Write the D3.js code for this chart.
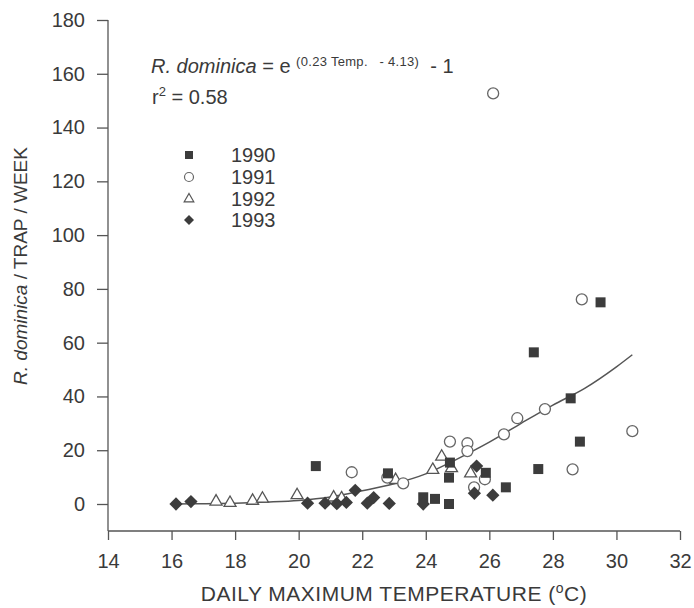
<!DOCTYPE html>
<html>
<head>
<meta charset="utf-8">
<script src="https://cdn.jsdelivr.net/npm/d3@7"></script>
<style>
  html, body { margin: 0; padding: 0; background: #fff; }
  svg { display: block; font-family: "Liberation Sans", Arial, Helvetica, sans-serif; }
</style>
</head>
<body>
<div id="chart"></div>
<script>
// ---------- data ----------
const xTicks = [14, 16, 18, 20, 22, 24, 26, 28, 30, 32];
const yTicks = [0, 20, 40, 60, 80, 100, 120, 140, 160, 180];
const years = ["1990", "1991", "1992", "1993"];

const temp1990 = [20.54, 22.81, 23.92, 24.29, 24.73, 24.73, 24.76, 25.89, 26.52, 27.54, 28.85, 28.56, 27.40, 29.50];
const val1990  = [14.1, 11.4, 2.5, 1.9, 0.0, 9.8, 15.4, 11.6, 6.2, 13.0, 23.2, 39.3, 56.4, 75.0];

const temp1991 = [21.67, 22.79, 23.29, 24.76, 25.31, 25.31, 25.86, 25.52, 26.46, 26.88, 27.75, 28.62, 30.50, 28.91, 26.12];
const val1991  = [11.8, 9.8, 7.7, 23.2, 22.6, 19.7, 9.2, 6.2, 25.9, 31.9, 35.3, 12.9, 27.1, 76.1, 152.7];

const temp1992 = [17.40, 17.84, 18.55, 18.86, 19.95, 21.10, 21.35, 23.05, 24.22, 24.50, 24.81, 25.41];
const val1992  = [0.9, 0.4, 1.2, 2.0, 3.3, 2.4, 2.1, 8.9, 12.7, 17.6, 13.3, 11.4];

const temp1993 = [16.14, 16.61, 20.28, 20.83, 21.20, 21.50, 21.78, 22.16, 22.36, 22.85, 23.92, 25.60, 25.53, 26.11];
const val1993  = [0.0, 0.9, 0.3, 0.3, 0.1, 0.6, 5.1, 0.3, 2.4, 0.2, 0.0, 14.1, 4.0, 3.3];

// fitted curve, as drawn in the reference
const curveTemp = [16.1, 17, 18, 19, 20, 21, 22, 23, 24, 25, 26, 27, 28, 29, 30, 30.5];
const curveVal  = [0.0, 0.1, 0.3, 0.7, 1.3, 2.6, 4.9, 7.5, 11.2, 16.8, 23.0, 30.0, 36.8, 43.0, 51.0, 55.5];

// ---------- drawing ----------
const W = 694, H = 608;
const svg = d3.select("#chart").append("svg").attr("width", W).attr("height", H);

const x = d3.scaleLinear().domain([14, 32]).range([108, 680]);
const y = d3.scaleLinear().domain([0, 180]).range([504, 20]);
const xAxisY = 531;

const lineCol = "#555";
const textCol = "#3a3a3a";
const markCol = "#3c3c3c";

// axis lines
svg.append("line").attr("x1", x(14)).attr("x2", x(14)).attr("y1", y(180)).attr("y2", xAxisY)
  .attr("stroke", lineCol).attr("stroke-width", 1.3);
svg.append("line").attr("x1", x(14)).attr("x2", x(32)).attr("y1", xAxisY).attr("y2", xAxisY)
  .attr("stroke", lineCol).attr("stroke-width", 1.3);

// y axis ticks
const gy = svg.append("g").attr("transform", `translate(${x(14)},0)`)
  .call(d3.axisLeft(y).tickValues(yTicks).tickSize(11).tickPadding(12).tickFormat(d3.format("d")));
gy.select(".domain").remove();
gy.selectAll(".tick line").attr("stroke", lineCol).attr("stroke-width", 1.3);
gy.selectAll(".tick text").attr("fill", textCol).style("font-size", "20px")
  .style("font-family", '"Liberation Sans", Arial, sans-serif');

// x axis ticks
const gx = svg.append("g").attr("transform", `translate(0,${xAxisY})`)
  .call(d3.axisBottom(x).tickValues(xTicks).tickSize(9).tickPadding(14).tickFormat(d3.format("d")));
gx.select(".domain").remove();
gx.selectAll(".tick line").attr("stroke", lineCol).attr("stroke-width", 1.3);
gx.selectAll(".tick text").attr("fill", textCol).style("font-size", "20px")
  .style("font-family", '"Liberation Sans", Arial, sans-serif');

// axis titles
const xt = svg.append("text").attr("x", 394).attr("y", 601).attr("text-anchor", "middle")
  .attr("fill", textCol).style("font-size", "21px").style("letter-spacing", "0.5px");
xt.append("tspan").text("DAILY MAXIMUM TEMPERATURE (");
xt.append("tspan").attr("dy", -8).style("font-size", "14px").text("o");
xt.append("tspan").attr("dy", 8).text("C)");

const yt = svg.append("text").attr("transform", "translate(27,266) rotate(-90)")
  .attr("text-anchor", "middle").attr("fill", textCol).style("font-size", "19px");
yt.append("tspan").style("font-style", "italic").text("R. dominica");
yt.append("tspan").text(" / TRAP / WEEK");

// equation
const eq = svg.append("text").attr("x", 151).attr("y", 73).attr("fill", textCol).style("font-size", "20px");
eq.append("tspan").style("font-style", "italic").text("R. dominica");
eq.append("tspan").text(" = e ");
eq.append("tspan").attr("dy", -7).style("font-size", "13px").style("letter-spacing", "0.3px")
  .text("(0.23 Temp. \u00A0\u00A0- 4.13)");
eq.append("tspan").attr("dy", 7).text(" \u00A0- 1");

const r2 = svg.append("text").attr("x", 152).attr("y", 104).attr("fill", textCol).style("font-size", "20px");
r2.append("tspan").text("r");
r2.append("tspan").attr("dy", -8).style("font-size", "13px").text("2");
r2.append("tspan").attr("dy", 8).text(" = 0.58");

// curve
const curvePts = curveTemp.map((t, i) => [t, curveVal[i]]);
svg.append("path").datum(curvePts)
  .attr("d", d3.line().x(d => x(d[0])).y(d => y(d[1])).curve(d3.curveMonotoneX))
  .attr("fill", "none").attr("stroke", "#555").attr("stroke-width", 1.5);

// markers
const symSquare = d3.symbol().type(d3.symbolSquare).size(100)();
const symDiamond = d3.symbol().type(d3.symbolSquare).size(88)();
const symTriangle = d3.symbol().type(d3.symbolTriangle).size(62)();

function pts(t, v) { return t.map((d, i) => [d, v[i]]); }

// 1992 triangles
svg.append("g").selectAll("path").data(pts(temp1992, val1992)).join("path")
  .attr("d", symTriangle).attr("transform", d => `translate(${x(d[0])},${y(d[1])})`)
  .attr("fill", "#fff").attr("stroke", "#555").attr("stroke-width", 1.3);

// 1991 circles
svg.append("g").selectAll("circle").data(pts(temp1991, val1991)).join("circle")
  .attr("cx", d => x(d[0])).attr("cy", d => y(d[1])).attr("r", 5.5)
  .attr("fill", "#fff").attr("stroke", "#666").attr("stroke-width", 1.3);

// 1990 squares
svg.append("g").selectAll("path").data(pts(temp1990, val1990)).join("path")
  .attr("d", symSquare).attr("transform", d => `translate(${x(d[0])},${y(d[1])})`)
  .attr("fill", markCol);

// 1993 diamonds
svg.append("g").selectAll("path").data(pts(temp1993, val1993)).join("path")
  .attr("d", symDiamond).attr("transform", d => `translate(${x(d[0])},${y(d[1])}) rotate(45)`)
  .attr("fill", markCol);

// legend
const legY = [155, 177, 199, 220];
const lg = svg.append("g");
lg.append("path").attr("d", d3.symbol().type(d3.symbolSquare).size(64)())
  .attr("transform", `translate(189,${legY[0]})`).attr("fill", markCol);
lg.append("circle").attr("cx", 189).attr("cy", legY[1]).attr("r", 4.5)
  .attr("fill", "#fff").attr("stroke", "#666").attr("stroke-width", 1.2);
lg.append("path").attr("d", d3.symbol().type(d3.symbolTriangle).size(40)())
  .attr("transform", `translate(189,${legY[2]})`).attr("fill", "#fff").attr("stroke", "#555").attr("stroke-width", 1.2);
lg.append("path").attr("d", d3.symbol().type(d3.symbolSquare).size(50)())
  .attr("transform", `translate(189,${legY[3]}) rotate(45)`).attr("fill", markCol);
lg.selectAll("text").data(years).join("text")
  .attr("x", 231).attr("y", (d, i) => legY[i] + 7).attr("fill", textCol)
  .style("font-size", "20px").text(d => d);
</script>
</body>
</html>
